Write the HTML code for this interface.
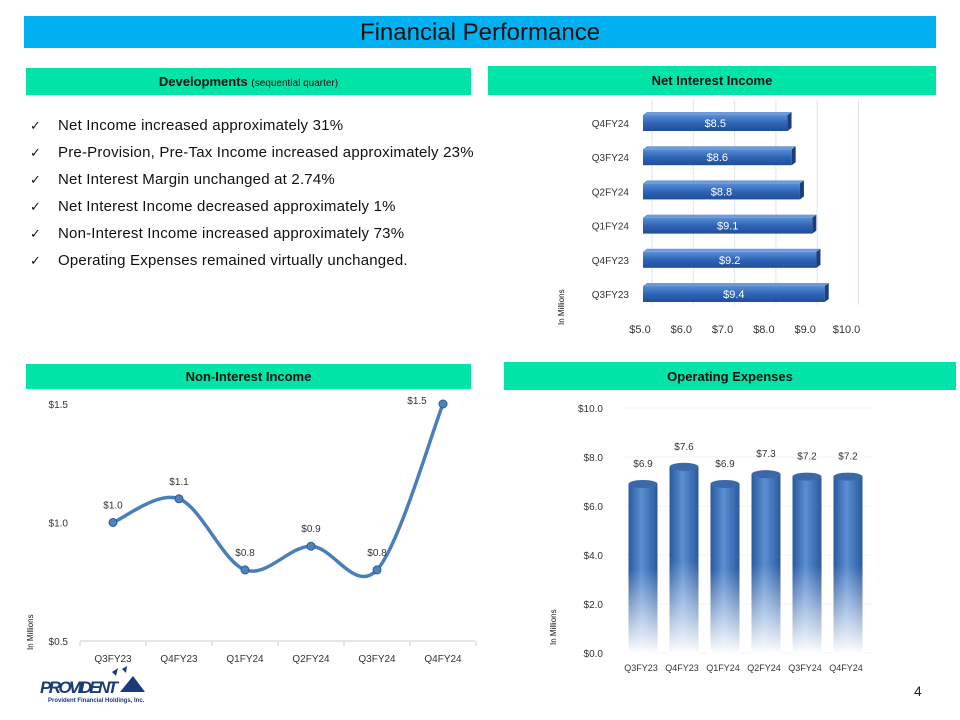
<!DOCTYPE html>
<html><head><meta charset="utf-8"><style>
body{margin:0;width:960px;height:720px;background:#fff;position:relative;overflow:hidden;font-family:"Liberation Sans",sans-serif}
.abs{position:absolute}
.hdr{position:absolute;background:#00e4a8;text-align:center;font-weight:bold;font-size:13px;color:#111;}
ul{position:absolute;left:30px;top:115px;margin:0;padding:0;list-style:none;font-size:15px;letter-spacing:0.2px;color:#111}
li{height:27px;line-height:22px}
li:before{content:"✓";display:inline-block;width:28px;font-size:13px}
</style></head><body>
<div class="abs" style="left:24px;top:16px;width:912px;height:32px;background:#00b0f0;text-align:center;line-height:33px;font-size:24px;color:#111">Financial Performance</div>
<div class="hdr" style="left:26px;top:68px;width:445px;height:27px;line-height:27px">Developments <span style="font-weight:normal;font-size:10px">(sequential quarter)</span></div>
<ul>
<li>Net Income increased approximately 31%</li>
<li>Pre-Provision, Pre-Tax Income increased approximately 23%</li>
<li>Net Interest Margin unchanged at 2.74%</li>
<li>Net Interest Income decreased approximately 1%</li>
<li>Non-Interest Income increased approximately 73%</li>
<li>Operating Expenses remained virtually unchanged.</li>
</ul>
<div class="hdr" style="left:488px;top:66px;width:448px;height:29px;line-height:29px">Net Interest Income</div>
<div class="hdr" style="left:26px;top:364px;width:445px;height:25px;line-height:25px">Non-Interest Income</div>
<div class="hdr" style="left:504px;top:362px;width:452px;height:28px;line-height:30px">Operating Expenses</div>

<svg class="abs" style="left:0;top:0" width="960" height="720">
<defs>
<linearGradient id="hb" x1="0" y1="0" x2="0" y2="1"><stop offset="0" stop-color="#5a8fd6"/><stop offset="0.5" stop-color="#2f65b5"/><stop offset="1" stop-color="#1f4e99"/></linearGradient>
<linearGradient id="cyl" x1="0" y1="0" x2="1" y2="0"><stop offset="0" stop-color="#2b5a9e"/><stop offset="0.45" stop-color="#5b8ed3"/><stop offset="1" stop-color="#2b5a9e"/></linearGradient>
<linearGradient id="fade" x1="0" y1="0" x2="0" y2="1"><stop offset="0" stop-color="#fff" stop-opacity="0"/><stop offset="0.5" stop-color="#fff" stop-opacity="0"/><stop offset="1" stop-color="#fff" stop-opacity="1"/></linearGradient>
</defs>
<g id="nii"></g><g id="nonii"></g><g id="opex"></g>
<text x="914" y="696" font-size="14" fill="#222">4</text>
<g>
<text x="40" y="693" font-size="17" font-weight="bold" font-style="italic" fill="#1a3a7a" textLength="78">PROVIDENT</text>
<polygon points="120,692 145,692 133,676" fill="#1a3a7a"/><polygon points="112,672 118,668 116,676" fill="#1a3a7a"/><polygon points="122,669 127,666 126,673" fill="#1a3a7a"/>
<text x="48" y="702" font-size="6" font-weight="bold" fill="#1a3a7a">Provident Financial Holdings, Inc.</text>
</g>
</svg>
<script>
const NS="http://www.w3.org/2000/svg";
function mk(p,t,a,txt){const e=document.createElementNS(NS,t);for(const k in a)e.setAttribute(k,a[k]);if(txt!==undefined)e.textContent=txt;p.appendChild(e);return e;}
// ---- Net interest income
const niiCats=["Q3FY23","Q4FY23","Q1FY24","Q2FY24","Q3FY24","Q4FY24"];
const niiVals=[9.4,9.2,9.1,8.8,8.6,8.5];
const niiTicks=[5,6,7,8,9,10];
// ---- Non-interest income
const nonCats=["Q3FY23","Q4FY23","Q1FY24","Q2FY24","Q3FY24","Q4FY24"];
const nonVals=[1.0,1.1,0.8,0.9,0.8,1.5];
const nonTicks=[0.5,1.0,1.5];
// ---- Operating expenses
const opCats=["Q3FY23","Q4FY23","Q1FY24","Q2FY24","Q3FY24","Q4FY24"];
const opVals=[6.9,7.6,6.9,7.3,7.2,7.2];
const opTicks=[0,2,4,6,8,10];

(function(){const g=document.getElementById('nii');
const x=v=>643+(v-5)*41.3, y=i=>294-i*34.2;
niiTicks.forEach(t=>{let l=mk(g,'line',{x1:x(t)+9,y1:100,x2:x(t)+9,y2:305,stroke:'#dde4ee'});
let tx=mk(g,'text',{x:x(t)-3,y:333,'font-size':11,'text-anchor':'middle',fill:'#333'},'$'+t.toFixed(1));});
niiVals.forEach((v,i)=>{const cy=y(i),w=x(v)-x(5);
let b=mk(g,'rect',{x:x(5),y:cy-8,width:w,height:16,fill:'url(#hb)'});
mk(g,'polygon',{points:`${x(v)},${cy-8} ${x(v)+4},${cy-11} ${x(v)+4},${cy+5} ${x(v)},${cy+8}`,fill:'#1b3f7e'});
mk(g,'polygon',{points:`${x(5)},${cy-8} ${x(5)+4},${cy-11} ${x(v)+4},${cy-11} ${x(v)},${cy-8}`,fill:'#6d9ad8'});
let t=mk(g,'text',{x:x(5)+w/2,y:cy+4,'font-size':11,'text-anchor':'middle',fill:'#fff'},'$'+v.toFixed(1));
let c=mk(g,'text',{x:629,y:cy+4,'font-size':10,'text-anchor':'end',fill:'#333'},niiCats[i]);});
mk(g,'text',{x:0,y:0,'font-size':8,transform:'translate(564,325) rotate(-90)',fill:'#111'},'In Millions');})();

(function(){const g=document.getElementById('nonii');
const y=v=>641-(v-0.5)*237, x=i=>113+i*66;
mk(g,'line',{x1:80,y1:641,x2:475,y2:641,stroke:'#ccc'});
for(let i=0;i<=6;i++)mk(g,'line',{x1:80+i*66,y1:641,x2:80+i*66,y2:646,stroke:'#ccc'});
nonTicks.forEach(t=>{let tx=mk(g,'text',{x:68,y:y(t)+4,'font-size':10,'text-anchor':'end',fill:'#333'},'$'+t.toFixed(1));});
nonCats.forEach((c,i)=>{let t=mk(g,'text',{x:x(i),y:662,'font-size':10,'text-anchor':'middle',fill:'#333'},c);});
const P=nonVals.map((v,i)=>[x(i),y(v)]);let d=`M${P[0][0]},${P[0][1]}`;
for(let i=0;i<P.length-1;i++){const p0=P[Math.max(0,i-1)],p1=P[i],p2=P[i+1],p3=P[Math.min(P.length-1,i+2)],k=1/6;
d+=` C${p1[0]+(p2[0]-p0[0])*k},${p1[1]+(p2[1]-p0[1])*k} ${p2[0]-(p3[0]-p1[0])*k},${p2[1]-(p3[1]-p1[1])*k} ${p2[0]},${p2[1]}`;}
let l=mk(g,'path',{d:d,fill:'none',stroke:'#4a7ebb',"stroke-width":3.5});
P.forEach((p,i)=>{let c=mk(g,'circle',{cx:p[0],cy:p[1],r:4,fill:'#4f81bd',stroke:'#2c5a96'});
let t=mk(g,'text',{x:p[0]+(i==5?-26:0),y:p[1]-14+(i==5?14:0),'font-size':10,'text-anchor':'middle',fill:'#333'},'$'+nonVals[i].toFixed(1));});
mk(g,'text',{x:0,y:0,'font-size':8,transform:'translate(33,650) rotate(-90)',fill:'#111'},'In Millions');})();

(function(){const g=document.getElementById('opex');
const y=v=>653-v*24.5, x=i=>643+i*41, w=29;
opTicks.forEach(t=>{let l=mk(g,'line',{x1:625,y1:y(t),x2:873,y2:y(t),stroke:'#f1f3f6'});
let tx=mk(g,'text',{x:603,y:y(t)+4,'font-size':10,'text-anchor':'end',fill:'#333'},'$'+t.toFixed(1));});
opVals.forEach((v,i)=>{const cx=x(i),top=y(v);
let b=mk(g,'rect',{x:cx-w/2,y:top,width:w,height:653-top,fill:'url(#cyl)'});
mk(g,'ellipse',{cx:cx,cy:top,rx:w/2,ry:4,fill:'#3a68a8'});
mk(g,'rect',{x:cx-w/2-1,y:top,width:w+2,height:654-top,fill:'url(#fade)'});
let t=mk(g,'text',{x:cx,y:top-17,'font-size':10,'text-anchor':'middle',fill:'#333'},'$'+v.toFixed(1));
let c=mk(g,'text',{x:cx-2,y:671,'font-size':9,'text-anchor':'middle',fill:'#333'},opCats[i]);});
mk(g,'text',{x:0,y:0,'font-size':8,transform:'translate(556,645) rotate(-90)',fill:'#111'},'In Millions');})();
</script>
</body></html>
